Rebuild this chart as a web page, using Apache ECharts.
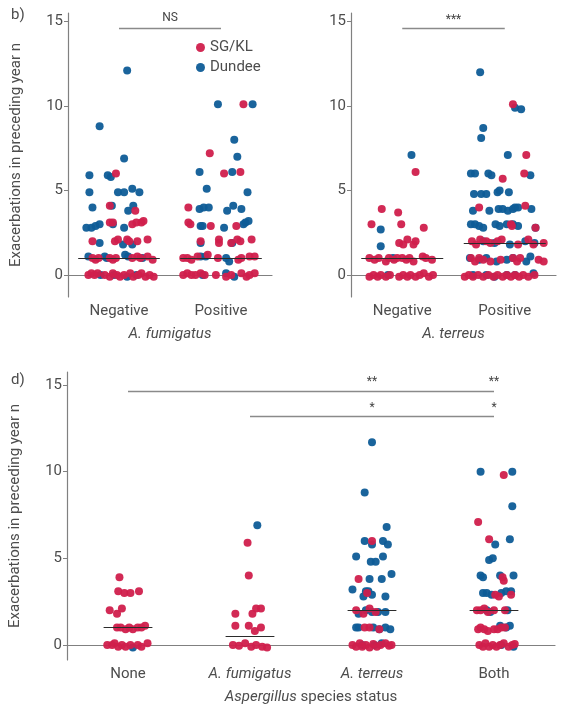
<!DOCTYPE html>
<html>
<head>
<meta charset="utf-8">
<script src="https://cdn.jsdelivr.net/npm/echarts@6/dist/echarts.min.js"></script>
<style>
  html, body { margin: 0; padding: 0; background: #fff; }
  #chart { width: 565px; height: 715px; }
</style>
</head>
<body>
<div id="chart"></div>
<script>
// categories
var fumCats = ['Negative', 'Positive'];
var terCats = ['Negative', 'Positive'];
var speciesCats = ['None', 'A. fumigatus', 'A. terreus', 'Both'];
var yTicks = [0, 5, 10, 15];

// points per category: [jitter from category centre, exacerbations]
var fumSG = [
  [[-0.03,6.0],[-0.09,4.1],[0.16,3.8],
   [-0.09,3.1],[-0.06,3.1],[0.13,3.0],[0.17,3.1],[0.22,3.1],[0.24,3.2],
   [-0.26,2.0],[-0.04,2.0],[-0.01,2.1],[0.08,2.1],[0.10,2.0],[0.18,2.0],[0.28,2.1],
   [-0.26,1.0],[-0.23,0.9],[-0.20,1.0],[-0.09,1.0],[-0.06,0.9],[-0.03,1.0],[0.13,1.0],[0.18,1.1],[0.21,1.0],[0.28,1.1],[0.33,0.9],
   [-0.30,0.0],[-0.27,0.1],[-0.24,0.0],[-0.21,0.1],[-0.14,0.0],[-0.09,-0.1],[-0.06,0.1],[-0.02,0.0],[0.01,-0.1],[0.05,0.0],[0.11,0.1],[0.14,-0.1],[0.19,0.0],[0.22,0.1],[0.26,-0.1],[0.30,0.0],[0.34,-0.1]],
  [[0.22,10.1],[-0.11,7.2],[0.03,6.0],[0.19,6.1],[-0.32,4.0],
   [-0.32,3.1],[-0.30,3.0],[-0.10,2.9],[0.15,2.9],
   [-0.20,2.0],[-0.02,2.1],[-0.02,1.9],[0.10,1.9],[0.16,2.1],[0.19,2.0],[0.30,2.1],
   [-0.37,1.0],[-0.33,1.0],[-0.29,0.9],[-0.23,1.1],[-0.13,1.2],[-0.03,1.0],[0.17,0.9],[0.20,1.0],[0.28,1.1],[0.33,1.1],
   [-0.37,0.0],[-0.33,0.1],[-0.29,0.0],[-0.25,0.0],[-0.20,0.1],[-0.16,0.0],[-0.05,0.0],[0.05,-0.1],[0.10,0.0],[0.20,0.1],[0.25,-0.1],[0.28,0.0],[0.33,0.1]]
];
var fumDU = [
  [[0.08,12.1],[-0.19,8.8],[0.05,6.9],
   [-0.29,5.9],[-0.11,5.9],[-0.08,5.8],
   [-0.29,4.9],[-0.01,4.9],[0.05,4.9],[0.13,5.1],[0.20,4.9],
   [-0.26,4.0],[-0.07,4.1],[0.09,3.8],[0.14,4.1],
   [-0.32,2.8],[-0.27,2.8],[-0.23,2.9],[-0.19,3.0],[-0.06,3.0],[0.05,2.8],
   [-0.19,1.9],[0.04,1.8],[0.13,1.8],
   [-0.30,1.1],[-0.14,1.1],[-0.12,1.0],[0.06,1.2],[0.09,1.1],[0.23,1.0],
   [-0.18,0.0],[-0.05,0.0],[0.08,-0.1],[0.17,0.0]],
  [[-0.03,10.1],[0.31,10.1],[0.13,8.0],[0.16,7.0],[-0.21,6.1],[0.11,6.1],
   [-0.14,5.1],[0.26,4.9],
   [-0.21,3.9],[-0.17,4.0],[-0.12,4.0],[0.06,3.8],[0.12,4.1],[0.20,3.9],
   [-0.20,2.9],[-0.18,2.9],[0.03,2.8],[0.22,3.0],[0.24,3.1],[0.27,3.2],
   [-0.20,1.9],[0.11,1.9],
   [-0.20,1.1],[-0.15,1.1],[0.05,1.0],[0.08,0.8],
   [-0.18,0.0],[0.05,0.1],[0.13,-0.1]]
];

var terSG = [
  [[0.13,6.1],[-0.20,3.9],[-0.04,3.7],
   [-0.30,3.0],[-0.01,3.0],[0.21,2.8],
   [0.05,2.1],[-0.03,1.9],[0.01,1.8],[0.13,2.0],[0.11,1.8],
   [-0.32,1.0],[-0.27,0.9],[-0.23,1.0],[-0.16,0.8],[-0.13,1.0],[-0.08,0.9],[-0.05,1.0],[0.00,1.0],[0.04,0.9],[0.07,1.0],[0.11,0.8],[0.20,1.1],[0.23,1.0],[0.29,0.9],
   [-0.32,-0.1],[-0.28,0.0],[-0.24,-0.1],[-0.21,0.0],[-0.16,-0.1],[-0.12,0.0],[-0.03,-0.1],[0.01,0.0],[0.05,-0.1],[0.08,0.0],[0.13,-0.1],[0.17,0.0],[0.21,0.1],[0.26,-0.1],[0.30,0.0]],
  [[0.08,10.1],[0.21,7.1],[0.19,6.0],[-0.02,5.7],[-0.25,4.0],[0.20,4.1],
   [0.06,3.0],[0.07,2.9],[0.30,2.8],
   [-0.32,2.0],[-0.28,1.8],[-0.24,2.1],[-0.18,2.0],[-0.14,1.9],[-0.07,2.0],[-0.03,2.1],[0.13,1.8],[0.23,2.1],[0.28,1.8],[0.38,1.9],
   [-0.33,1.0],[-0.29,0.8],[-0.25,1.0],[-0.21,0.9],[-0.14,0.8],[-0.04,0.9],[0.08,1.0],[0.12,0.8],[0.15,1.0],[0.33,0.9],[0.38,0.8],
   [-0.39,-0.1],[-0.35,0.0],[-0.31,-0.1],[-0.26,0.0],[-0.21,-0.1],[-0.16,0.0],[-0.11,-0.1],[-0.07,0.0],[-0.02,-0.1],[0.02,0.0],[0.06,-0.1],[0.10,0.0],[0.14,-0.1],[0.18,0.0],[0.23,-0.1],[0.29,0.0]]
];
var terDU = [
  [[0.09,7.1],[-0.21,2.7],[-0.21,1.7],[-0.09,1.0],[-0.14,0.0]],
  [[-0.24,12.0],[-0.21,8.7],[-0.23,8.1],[0.10,9.9],[0.16,9.8],[0.03,7.1],
   [-0.33,6.0],[-0.29,6.0],[-0.16,6.0],[-0.13,5.9],[0.25,5.9],
   [-0.30,4.8],[-0.23,4.8],[-0.18,4.8],[-0.07,4.9],[-0.05,5.0],[0.04,4.9],
   [-0.31,3.8],[-0.15,3.8],[-0.06,3.9],[-0.02,3.9],[0.03,3.8],[0.08,3.9],[0.10,4.0],[0.13,4.0],[0.26,3.9],
   [-0.33,3.0],[-0.29,3.0],[-0.25,2.9],[-0.21,2.8],[-0.09,3.0],[-0.05,2.9],[0.02,3.0],[0.08,3.0],[0.13,2.9],[0.30,2.8],
   [-0.21,2.0],[-0.10,1.9],[0.05,1.8],[0.20,2.0],[0.29,1.9],
   [-0.34,1.0],[-0.25,0.9],[-0.18,1.0],[-0.08,0.8],[0.02,0.9],[0.08,1.0],[0.21,0.8],[0.25,1.1],
   [-0.31,0.0],[-0.18,0.0],[-0.10,-0.1],[0.02,0.0],[0.10,0.0],[0.28,0.1]]
];

var speciesSG = [
  [[-0.07,3.9],[-0.08,3.1],[-0.03,3.0],[0.02,3.0],[0.09,3.1],
   [-0.15,2.0],[-0.09,1.8],[-0.05,2.1],
   [-0.09,1.0],[-0.06,1.0],[-0.02,0.9],[0.01,1.0],[0.04,0.9],[0.08,1.0],[0.11,1.0],[0.14,1.1],
   [-0.17,0.0],[-0.13,0.0],[-0.11,0.1],[-0.08,-0.1],[-0.05,0.0],[-0.02,-0.1],[0.02,0.0],[0.08,0.0],[0.11,-0.1],[0.16,0.1]],
  [[-0.02,5.9],[-0.01,4.0],[-0.12,1.8],[0.02,1.8],[0.05,2.1],[0.09,2.1],
   [-0.12,1.1],[-0.01,1.1],[0.09,1.0],[0.04,0.8],
   [-0.14,0.0],[-0.09,-0.05],[-0.04,0.1],[0.01,-0.1],[0.05,0.0],[0.10,-0.1],[0.14,-0.15]],
  [[0.00,6.0],[-0.11,3.8],[-0.04,3.0],
   [-0.13,2.0],[-0.07,1.8],[-0.02,2.1],[0.03,1.9],
   [-0.06,1.0],[-0.02,1.0],[0.06,0.9],
   [-0.16,0.0],[-0.13,-0.1],[-0.10,0.1],[-0.08,-0.1],[-0.05,0.0],[-0.02,-0.15],[0.01,0.05],[0.04,-0.1],[0.07,0.0],[0.11,0.1],[0.14,-0.05],[0.16,0.0]],
  [[0.08,9.8],[-0.13,7.1],[-0.04,6.1],
   [0.07,3.9],[0.08,3.7],
   [0.01,2.9],[0.04,2.8],[0.14,2.9],
   [-0.14,2.0],[-0.11,2.0],[-0.08,2.1],[-0.05,1.9],[0.00,2.0],[0.09,2.0],
   [-0.13,0.9],[-0.11,1.0],[-0.08,0.9],[-0.05,0.8],[0.00,0.9],[0.03,0.9],[0.06,1.0],[0.09,1.0],
   [-0.12,0.0],[-0.09,-0.1],[-0.07,0.1],[-0.04,-0.1],[-0.01,0.0],[0.02,-0.1],[0.05,0.0],[0.08,0.1],[0.12,-0.1],[0.15,0.0],[0.17,0.05]]
];
var speciesDU = [
  [[0.04,-0.15]],
  [[0.06,6.9]],
  [[0.00,11.7],[-0.06,8.8],[0.12,6.8],
   [-0.06,6.0],[0.00,5.8],[0.09,6.0],[0.13,5.8],
   [-0.13,5.1],[-0.01,4.8],[0.03,4.8],[0.09,5.1],
   [0.16,4.1],[-0.02,3.8],[0.08,3.8],
   [-0.16,3.2],[-0.05,3.1],[-0.03,3.1],[-0.07,2.8],[0.00,2.9],[0.11,2.8],
   [-0.05,2.0],[-0.11,1.8],[0.00,1.9],[0.05,1.9],[0.11,1.9],
   [-0.13,1.0],[-0.11,1.0],[0.01,1.0],[0.06,0.9],[0.11,1.0],[0.15,0.9],
   [-0.08,0.0],[0.02,0.0],[0.08,0.1]],
  [[-0.11,10.0],[0.15,10.0],[0.15,8.0],[0.13,6.1],[0.01,5.8],
   [-0.04,4.9],[-0.01,5.0],
   [-0.11,4.0],[-0.09,3.9],[0.05,4.0],[0.16,4.0],
   [-0.09,3.0],[-0.06,3.0],[-0.02,2.9],[0.06,3.0],[0.10,3.1],[0.14,3.1],
   [-0.06,2.0],[-0.03,1.9],[0.11,2.0],
   [0.05,1.1],[0.13,1.1],[0.10,1.0],
   [0.06,0.0],[0.16,-0.1]]
];

// group medians
var fumMedians = [1, 1];
var terMedians = [1, 1.9];
var speciesMedians = [1, 0.5, 2, 2];

var red = '#d01f4c';
var blue = '#0e5c97';
var textColor = '#4d4d4d';
var axisColor = '#808080';
var font = 'Roboto';

// put each group's points at its category centre (1, 2, ...)
function place(groups) {
  var out = [];
  groups.forEach(function (g, i) {
    g.forEach(function (p) { out.push([i + 1 + p[0], p[1]]); });
  });
  return out;
}

function medianLines(meds, half) {
  return meds.map(function (m, i) {
    return [{ coord: [i + 1 - half, m], lineStyle: { color: '#2b2b2b', width: 1, type: 'solid' } },
            { coord: [i + 1 + half, m] }];
  });
}

function bar(from, to, y) {
  return [{ coord: [from, y], lineStyle: { color: '#8a8a8a', width: 1.3, type: 'solid' } }, { coord: [to, y] }];
}

function marks(list) {
  return list.map(function (t) {
    return { coord: [t[0], t[1]], value: t[2] };
  });
}

function catAxis(grid, cats, name, italicCats) {
  return {
    type: 'category', gridIndex: grid, data: cats, boundaryGap: true,
    axisLine: { lineStyle: { color: axisColor, width: 1.2 } },
    axisTick: { alignWithLabel: true, length: 4, lineStyle: { color: axisColor } },
    axisLabel: {
      color: textColor, fontSize: 15, fontFamily: font, margin: 7, interval: 0,
      formatter: function (v, i) { return italicCats && i > 0 && i < 3 ? '{i|' + v + '}' : v; },
      rich: { i: { fontStyle: 'italic', fontSize: 15, color: textColor, fontFamily: font } }
    },
    name: name, nameLocation: 'middle', nameGap: 30,
    nameTextStyle: {
      color: textColor, fontSize: 15, fontFamily: font, fontStyle: italicCats ? 'normal' : 'italic',
      rich: { i: { fontStyle: 'italic', fontSize: 15, color: textColor, fontFamily: font } }
    },
    splitLine: { show: false }
  };
}

function valAxis(grid, n) {
  return { type: 'value', gridIndex: grid, min: 0.5, max: n + 0.5, show: false, splitLine: { show: false } };
}

function yAxis(grid, min, max, title) {
  return {
    type: 'value', gridIndex: grid, min: min, max: max,
    axisLine: { show: true, lineStyle: { color: axisColor, width: 1.2 } },
    axisTick: { show: true, length: 4, customValues: yTicks, lineStyle: { color: axisColor } },
    axisLabel: { color: textColor, fontSize: 15, fontFamily: font, margin: 5, customValues: yTicks },
    splitLine: { show: false },
    name: title, nameLocation: 'middle', nameGap: 44,
    nameTextStyle: { color: textColor, fontSize: 15, fontFamily: font }
  };
}

function dots(name, color, xIdx, yIdx, data, extra) {
  var s = {
    name: name, type: 'scatter', xAxisIndex: xIdx, yAxisIndex: yIdx,
    data: data, symbolSize: 8,
    itemStyle: { color: color, opacity: 0.95 },
    emphasis: { disabled: true }, animation: false
  };
  return Object.assign(s, extra || {});
}

function annotations(lines, texts) {
  return {
    markLine: {
      silent: true, symbol: 'none', label: { show: false }, animation: false,
      lineStyle: { type: 'solid' }, data: lines
    },
    markPoint: {
      silent: true, symbol: 'circle', symbolSize: 0, animation: false,
      label: { show: true, position: 'inside', color: '#444', fontSize: 12, fontFamily: font, formatter: '{c}' },
      data: marks(texts)
    }
  };
}

var yTitle = 'Exacerbations in preceding year n';

var option = {
  backgroundColor: '#fff',
  animation: false,
  title: [
    { text: 'b)', left: 6, top: 3, textStyle: { color: textColor, fontSize: 15, fontWeight: 'normal', fontFamily: font } },
    { text: 'd)', left: 6, top: 368, textStyle: { color: textColor, fontSize: 15, fontWeight: 'normal', fontFamily: font } }
  ],
  legend: {
    data: ['SG/KL', 'Dundee'], orient: 'vertical', left: 196, top: 40,
    icon: 'circle', itemWidth: 9, itemHeight: 9, itemGap: 5, padding: 0,
    textStyle: { color: textColor, fontSize: 15, fontFamily: font }, selectedMode: false
  },
  grid: [
    { left: 68, top: 13, width: 204, height: 284 },
    { left: 351, top: 13, width: 205, height: 284 },
    { left: 67, top: 372, width: 488, height: 288 }
  ],
  xAxis: [
    catAxis(0, fumCats, 'A. fumigatus', false), valAxis(0, fumCats.length),
    catAxis(1, terCats, 'A. terreus', false), valAxis(1, terCats.length),
    catAxis(2, speciesCats, '{i|Aspergillus} species status', true), valAxis(2, speciesCats.length)
  ],
  yAxis: [
    yAxis(0, -1.3, 15.5, yTitle),
    yAxis(1, -1.3, 15.5, ''),
    yAxis(2, -0.87, 15.75, yTitle)
  ],
  series: [
    dots('Dundee', blue, 1, 0, place(fumDU)),
    dots('SG/KL', red, 1, 0, place(fumSG),
      annotations(medianLines(fumMedians, 0.4).concat([bar(1, 2, 14.6)]), [[1.5, 15.2, 'NS']])),
    dots('Dundee', blue, 3, 1, place(terDU)),
    dots('SG/KL', red, 3, 1, place(terSG),
      annotations(medianLines(terMedians, 0.4).concat([bar(1, 2, 14.6)]), [[1.5, 15.1, '***']])),
    dots('Dundee', blue, 5, 2, place(speciesDU)),
    dots('SG/KL', red, 5, 2, place(speciesSG),
      annotations(medianLines(speciesMedians, 0.2).concat([bar(1, 4, 14.65), bar(2, 4, 13.2)]),
        [[3, 15.15, '**'], [4, 15.15, '**'], [3, 13.65, '*'], [4, 13.65, '*']]))
  ]
};

var myChart = echarts.init(document.getElementById('chart'));
myChart.setOption(option);
</script>
</body>
</html>
